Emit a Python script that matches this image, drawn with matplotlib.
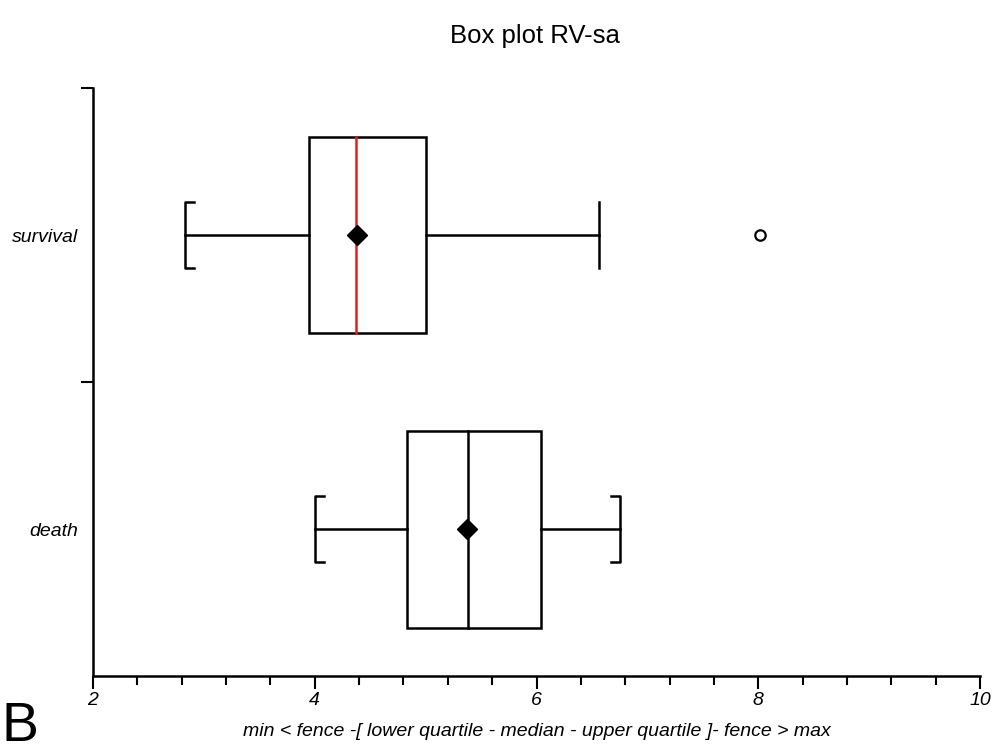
import numpy as np
import matplotlib.pyplot as plt
from matplotlib.patches import Rectangle
from matplotlib.ticker import FixedLocator, MultipleLocator

plt.rcParams['font.family'] = ['Liberation Sans', 'DejaVu Sans']

# Box plot summary values
groups = ['death', 'survival']
whis_low = [4.00, 2.83]
q1 = [4.83, 3.95]
median = [5.38, 4.37]
q3 = [6.04, 5.00]
whis_high = [6.75, 6.56]
means = [5.37, 4.38]
outliers = [[], [8.02]]
median_colors = ['black', '#e02020']

fig = plt.figure(figsize=(10, 7.56), dpi=100)
ax = fig.add_axes([0.093, 0.1058, 0.887, 0.7778])

lw = 1.8
box_h = 0.335
cap_h = 0.112
stub = 0.08

for i, name in enumerate(groups):
    y = i + 0.5
    # box
    ax.add_patch(Rectangle((q1[i], y - box_h), q3[i] - q1[i], 2 * box_h,
                           fill=False, edgecolor='black', linewidth=lw, zorder=2))
    # median
    ax.plot([median[i], median[i]], [y - box_h, y + box_h], color=median_colors[i], lw=lw, zorder=3)
    # whiskers
    ax.plot([whis_low[i], q1[i]], [y, y], color='black', lw=lw)
    ax.plot([q3[i], whis_high[i]], [y, y], color='black', lw=lw)
    # caps: bracket when whisker reaches the real extreme, plain line at a fence
    low_out = [v for v in outliers[i] if v < whis_low[i]]
    high_out = [v for v in outliers[i] if v > whis_high[i]]
    if low_out:
        ax.plot([whis_low[i]] * 2, [y - cap_h, y + cap_h], color='black', lw=lw)
    else:
        ax.plot([whis_low[i] + stub, whis_low[i], whis_low[i], whis_low[i] + stub],
                [y - cap_h, y - cap_h, y + cap_h, y + cap_h], color='black', lw=lw)
    if high_out:
        ax.plot([whis_high[i]] * 2, [y - cap_h, y + cap_h], color='black', lw=lw)
    else:
        ax.plot([whis_high[i] - stub, whis_high[i], whis_high[i], whis_high[i] - stub],
                [y - cap_h, y - cap_h, y + cap_h, y + cap_h], color='black', lw=lw)
    # mean
    ax.plot([means[i]], [y], marker='D', ms=10.5, color='black', zorder=4)
    # outliers
    if outliers[i]:
        ax.plot(outliers[i], [y] * len(outliers[i]), 'o', ms=7.5, mfc='none',
                mec='black', mew=1.6, zorder=4)

ax.set_xlim(2, 10)
ax.set_ylim(0, 2)
for s in ['top', 'right']:
    ax.spines[s].set_visible(False)
for s in ['left', 'bottom']:
    ax.spines[s].set_linewidth(1.8)

ax.xaxis.set_major_locator(FixedLocator([2, 4, 6, 8, 10]))
ax.xaxis.set_minor_locator(MultipleLocator(0.4))
ax.tick_params(axis='x', which='major', length=9.5, width=1.5, pad=2, labelsize=14)
ax.tick_params(axis='x', which='minor', length=6.5, width=1.5)
for lab in ax.get_xticklabels():
    lab.set_fontstyle('italic')

ax.yaxis.set_major_locator(FixedLocator([1, 2]))
ax.set_yticklabels([])
ax.yaxis.set_minor_locator(FixedLocator([0.5, 1.5]))
ax.set_yticklabels(groups, minor=True, fontstyle='italic', fontsize=14)
ax.tick_params(axis='y', which='major', length=9, width=1.5)
ax.tick_params(axis='y', which='minor', length=0, pad=10.5)

ax.set_xlabel('min < fence -[ lower quartile - median - upper quartile ]- fence > max',
              fontstyle='italic', fontsize=14, labelpad=10)
fig.text(0.535, 0.953, 'Box plot RV-sa', ha='center', va='center', fontsize=18.5)
fig.text(0.002, 0.02, 'B', ha='left', va='baseline', fontsize=40)

fig.savefig('out.png', dpi=100)
